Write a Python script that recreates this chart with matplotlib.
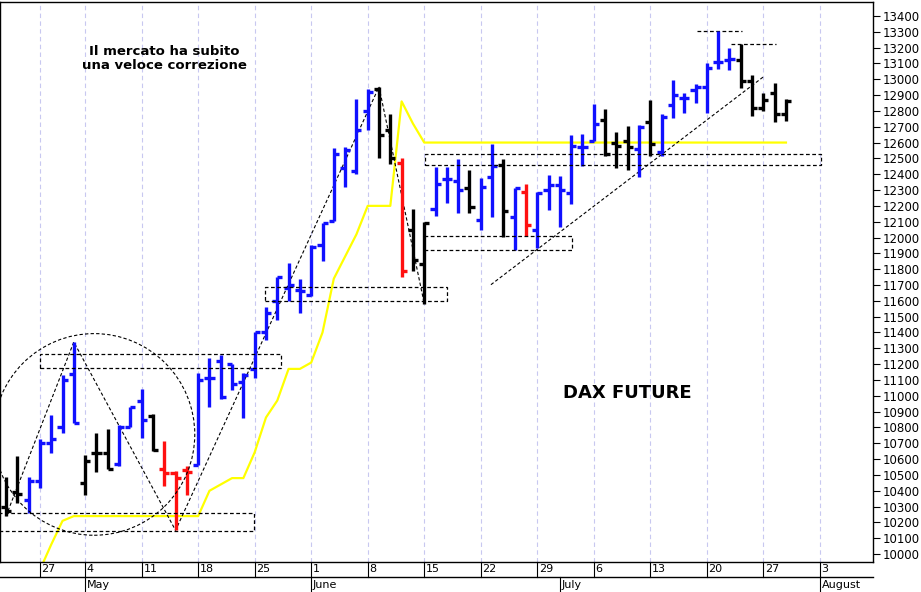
import matplotlib
matplotlib.use("Agg")
import matplotlib.pyplot as plt
from matplotlib.patches import Rectangle, Ellipse
import numpy as np

# trading days (May 1 holiday removed), index 0 = Apr 22
dates = ["04-22","04-23","04-24","04-27","04-28","04-29","04-30",
         "05-04","05-05","05-06","05-07","05-08","05-11","05-12","05-13","05-14","05-15",
         "05-18","05-19","05-20","05-21","05-22","05-25","05-26","05-27","05-28","05-29",
         "06-01","06-02","06-03","06-04","06-05","06-08","06-09","06-10","06-11","06-12",
         "06-15","06-16","06-17","06-18","06-19","06-22","06-23","06-24","06-25","06-26",
         "06-29","06-30","07-01","07-02","07-03","07-06","07-07","07-08","07-09","07-10",
         "07-13","07-14","07-15","07-16","07-17","07-20","07-21","07-22","07-23","07-24",
         "07-27","07-28","07-29"]
opens = [10300,10390,10340,10460,10700,10800,11140,
         10450,10640,10640,10570,10800,10970,10870,10540,10510,10530,
         10560,11110,11220,11204,11085,11170,11400,11600,11680,11670,
         11640,11950,12106,12440,12420,12800,12940,12680,12470,12050,
         11830,12180,12370,12360,12315,12110,12380,12460,12130,12290,
         12050,12300,12330,12280,12570,12611,12740,12600,12610,12560,
         12730,12540,12840,12880,12930,12950,13110,13120,13120,12990,
         12820,12910,12780]
highs = [10485,10620,10490,10730,10880,11130,11340,
         10624,10762,10788,10813,10932,11046,10888,10712,10523,10554,
         11147,11242,11255,11204,11147,11400,11560,11753,11841,11740,
         11955,12094,12567,12573,12876,12939,12952,12782,12504,12182,
         12100,12447,12447,12498,12428,12378,12592,12498,12315,12340,
         12290,12397,12390,12649,12655,12845,12813,12668,12706,12712,
         12870,12782,12996,12914,12970,13103,13305,13198,13223,13027,
         12914,12977,12876]
lows = [10240,10320,10260,10420,10637,10763,10830,
        10371,10516,10535,10554,10800,10731,10654,10428,10150,10371,
        10560,10932,10977,11034,10857,11115,11350,11476,11602,11520,
        11633,11854,12106,12321,12403,12680,12504,12466,11753,11790,
        11583,12138,12220,12157,12157,12050,12132,12006,11923,12012,
        11936,12176,12069,12214,12453,12611,12516,12441,12428,12384,
        12516,12516,12756,12788,12850,12788,13065,13058,12945,12769,
        12800,12731,12737]
closes = [10270,10380,10460,10700,10730,11100,10830,
          10590,10640,10535,10800,10930,10850,10660,10510,10480,10520,
          11100,11110,10990,11075,11130,11400,11520,11750,11700,11660,
          11940,12090,12530,12550,12680,12920,12650,12500,11790,11860,
          12090,12340,12370,12300,12195,12320,12450,12170,12310,12080,
          12280,12330,12300,12580,12575,12720,12530,12580,12570,12700,
          12590,12760,12900,12880,12950,13070,13110,13130,12990,12820,
          12870,12780,12860]
colors = ["k","k","b","b","b","b","b",
          "k","k","k","b","b","b","k","r","r","r",
          "b","b","b","b","b","b","b","b","b","b",
          "b","b","b","b","b","b","k","k","r","k",
          "k","b","b","b","k","b","b","k","b","r",
          "b","b","b","b","b","b","k","k","k","b",
          "k","b","b","b","b","b","b","b","k","k",
          "k","k","k"]
yellow = [np.nan,np.nan,np.nan,9900,10060,10210,10240,
          10240,10240,10240,10240,10240,10240,10240,10240,10240,10240,
          10240,10400,10440,10480,10480,10643,10863,10970,11170,11170,
          11210,11400,11740,11880,12020,12200,12200,12200,12860,12720,
          12600,12600,12600,12600,12600,12600,12600,12600,12600,12600,
          12600,12600,12600,12600,12600,12600,12600,12600,12600,12600,
          12600,12600,12600,12600,12600,12600,12600,12600,12600,12600,
          12600,12600,12600]
day_ticks = [3,7,12,17,22,27,32,37,42,47,52,57,62,67,72]
day_labels = ["27","4","11","18","25","1","8","15","22","29","6","13","20","27","3"]
month_pos = [7,27,49,72]
month_labels = ["May","June","July","August"]

cmap = {"k":"#000000","b":"#1010FF","r":"#FF1010"}

fig = plt.figure(figsize=(9.21,5.92), dpi=100)
ax = fig.add_axes([0.0, 30/592, 873/921, 560/592])
ax.set_xlim(-0.53, 76.7)
ax.set_ylim(9950, 13488)

for p in day_ticks:
    ax.axvline(p, color="#c8c8f0", lw=0.8, ls=(0,(4,3)), zorder=0)

x = np.arange(len(dates))
yl = np.array(yellow)
ax.plot(x, yl, color="#FFFF00", lw=1.6, zorder=2)

for i in range(len(dates)):
    c = cmap[colors[i]]
    ax.plot([i,i],[lows[i],highs[i]], color=c, lw=2.4, solid_capstyle="butt", zorder=3)
    ax.plot([i-0.45,i],[opens[i],opens[i]], color=c, lw=2.4, solid_capstyle="butt", zorder=3)
    ax.plot([i,i+0.45],[closes[i],closes[i]], color=c, lw=2.4, solid_capstyle="butt", zorder=3)

dk = dict(fill=False, ls=(0,(3,2)), lw=0.9, ec="k", zorder=4)
ax.add_patch(Rectangle((3.0,11175), 21.3, 90, **dk))
ax.add_patch(Rectangle((-0.6,10144), 22.5, 114, **dk))
ax.add_patch(Rectangle((22.9,11602), 16.1, 88, **dk))
ax.add_patch(Rectangle((37.1,12460), 35.0, 70, **dk))
ax.add_patch(Rectangle((37.0,11923), 13.1, 89, **dk))
ax.add_patch(Ellipse((7.8,10756), 17.8, 1274, angle=0, fill=False, ls=(0,(3,2)), lw=0.8, ec="k", zorder=4))
ax.plot([61.1,65.1],[13305,13305], color="k", ls=(0,(3,2)), lw=0.9)
ax.plot([64.1,68.1],[13220,13220], color="k", ls=(0,(3,2)), lw=0.9)
ax.plot([42.9,67.0],[11702,13015], color="k", ls=(0,(3,2)), lw=0.8)
ax.plot([0,6,15,33,37],[10240,11340,10150,12952,11583], color="k", ls=(0,(3,2)), lw=0.8)

ax.text(14.0, 13130, "Il mercato ha subito\nuna veloce correzione", fontsize=9.5,
        fontweight="bold", ha="center", va="center", linespacing=1.1)
ax.text(55.0, 11020, "DAX FUTURE", fontsize=13, fontweight="bold", ha="center", va="center")

ax.yaxis.tick_right()
ax.set_yticks(np.arange(10000, 13401, 100))
ax.tick_params(axis="y", direction="out", length=5, labelsize=8.5, pad=2)
ax.set_xticks([])
for s in ax.spines.values():
    s.set_linewidth(1.0)

tr = ax.get_xaxis_transform()
band = 15/560
ax.plot([-0.53,76.7],[-band,-band], color="k", lw=1.0, transform=tr, clip_on=False)
for p,l in zip(day_ticks, day_labels):
    ax.plot([p,p],[0,-band], color="k", lw=0.8, transform=tr, clip_on=False)
    ax.text(p+0.15, -band/2, l, transform=tr, fontsize=8, ha="left", va="center")
for p,l in zip(month_pos, month_labels):
    ax.plot([p,p],[-band,-2*band], color="k", lw=0.8, transform=tr, clip_on=False)
    ax.text(p+0.15, -1.5*band, l, transform=tr, fontsize=8, ha="left", va="center")

fig.savefig("out.png", dpi=100)
